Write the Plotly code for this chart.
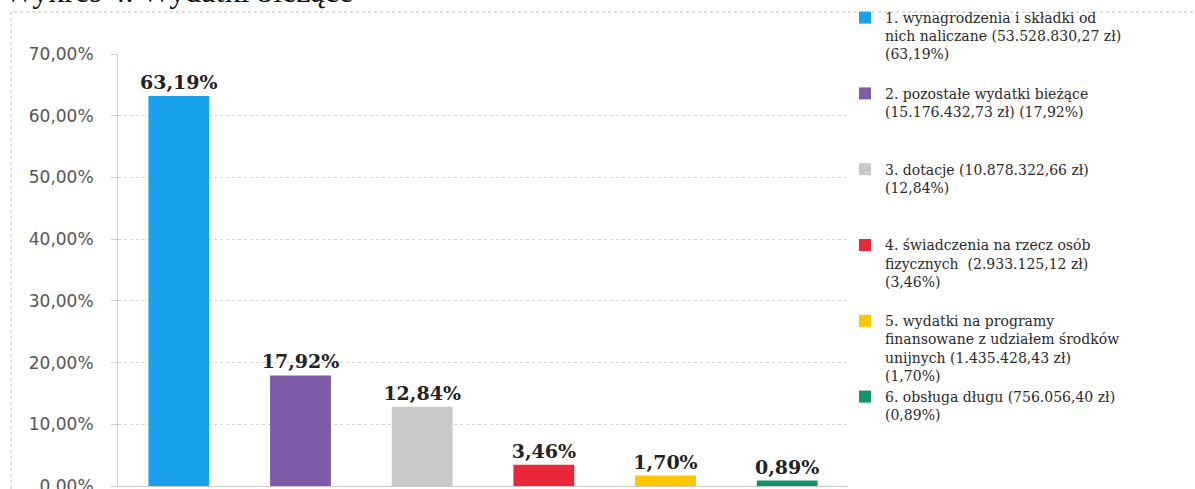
import plotly.graph_objects as go

categories = ["1", "2", "3", "4", "5", "6"]
values = [63.19, 17.92, 12.84, 3.46, 1.70, 0.89]
legend_labels = [
    "1. wynagrodzenia i składki od<br>nich naliczane (53.528.830,27 zł)<br>(63,19%)",
    "2. pozostałe wydatki bieżące<br>(15.176.432,73 zł) (17,92%)",
    "3. dotacje (10.878.322,66 zł)<br>(12,84%)",
    "4. świadczenia na rzecz osób<br>fizycznych  (2.933.125,12 zł)<br>(3,46%)",
    "5. wydatki na programy<br>finansowane z udziałem środków<br>unijnych (1.435.428,43 zł)<br>(1,70%)",
    "6. obsługa długu (756.056,40 zł)<br>(0,89%)",
]
colors = ["#18a2ec", "#7d5ba8", "#c9c9c9", "#e8283a", "#fcc800", "#11936c"]
y_ticks = [0, 10, 20, 30, 40, 50, 60, 70]
y_tick_labels = ["0,00%", "10,00%", "20,00%", "30,00%", "40,00%", "50,00%", "60,00%", "70,00%"]
title_text = "Wykres 4. Wydatki bieżące"

# pad legend entries to 4 lines so items are evenly spaced
def pad(label, n=4):
    lines = label.split("<br>")
    while len(lines) < n:
        lines.append("\u00a0")
    return "<br>".join(lines)

fig = go.Figure()
for cat, val, lab, col in zip(categories, values, legend_labels, colors):
    fig.add_trace(go.Bar(
        x=[cat], y=[val], name=pad(lab),
        marker=dict(color=col, line=dict(width=0)),
        texttemplate="%{y:.2f}%", textposition="outside",
        constraintext="none",
        textfont=dict(family="DejaVu Serif", size=19, color="#222222", weight="bold"),
        cliponaxis=False,
    ))

W, H = 1195, 489
L, R, T, B = 118, 347, 54, 3
pw, ph = W - L - R, H - T - B

def px_x(p):
    return (p - L) / pw

def px_y(p):
    return (H - B - p) / ph

fig.update_layout(
    width=W, height=H,
    margin=dict(l=L, r=R, t=T, b=B, autoexpand=False),
    paper_bgcolor="white", plot_bgcolor="white",
    barmode="overlay", bargap=0.5,
    separators=",.",
    showlegend=True,
    legend=dict(
        x=px_x(845), xanchor="left", y=px_y(2), yanchor="top",
        valign="top", tracegroupgap=0, maxheight=489,
        font=dict(family="DejaVu Serif", size=14, color="#2a2a2a"),
        bgcolor="rgba(0,0,0,0)",
    ),
    xaxis=dict(
        type="category", categoryorder="array", categoryarray=categories,
        showticklabels=False, showgrid=False, ticks="",
        showline=True, linecolor="#c8c8c8", linewidth=1,
    ),
    yaxis=dict(
        range=[0, 70], tickmode="array", tickvals=y_ticks, ticktext=y_tick_labels,
        showgrid=True, gridcolor="#d4d4d4", griddash="dot", gridwidth=1,
        showline=True, linecolor="#d0d0d0", linewidth=1,
        ticks="outside", ticklen=6, tickcolor="#d0d0d0",
        ticklabelstandoff=14, ticklabeloverflow="allow",
        tickfont=dict(family="DejaVu Sans", size=17, color="#555555"),
        zeroline=False,
    ),
    shapes=[dict(
        type="rect", xref="paper", yref="paper",
        x0=px_x(11), x1=px_x(1210), y0=px_y(500), y1=px_y(12),
        line=dict(color="#bdbdbd", width=1, dash="dot"),
        fillcolor="rgba(0,0,0,0)", layer="below",
    )],
    annotations=[dict(
        text=title_text, xref="paper", yref="paper",
        x=px_x(2), xanchor="left", y=px_y(11), yanchor="bottom",
        showarrow=False,
        font=dict(family="Liberation Serif", size=32, color="#111111"),
    )],
)

fig.write_html(
    "out.html",
    config={"displayModeBar": False},
    post_script="document.body.style.margin='0';document.body.style.overflow='hidden';",
)
